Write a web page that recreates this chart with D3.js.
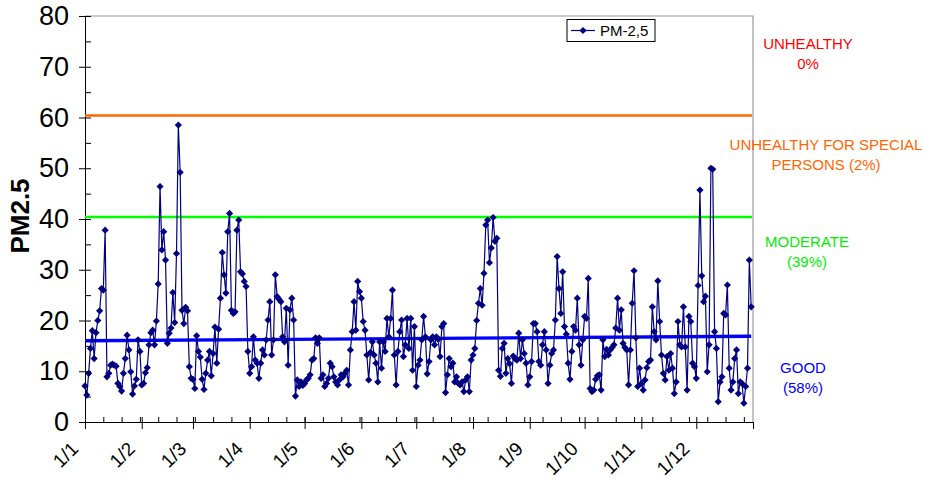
<!DOCTYPE html>
<html>
<head>
<meta charset="utf-8">
<script src="https://cdn.jsdelivr.net/npm/d3@7"></script>
<style>
    body { margin: 0; background: #fff; }
    text { font-family: "Liberation Sans", Arial, sans-serif; }
</style>
</head>
<body>
<div id="chart"></div>
<script>

    // daily PM2.5 readings, one array per month
    var jan = [7.1, 5.3, 9.6, 14.5, 18, 12.5, 17.6, 20, 21.9, 26.3, 26, 37.8, 8.9, 9.6, 11.2, 11.4, 11.2, 11, 7.6, 7, 6.1, 9.6, 12.5, 17.1, 14.2, 9.9, 5.5, 7.1, 8.4, 16.2, 13.9];
    var feb = [7.3, 7.6, 9.7, 10.7, 15.2, 17.6, 18.1, 15.2, 19.9, 27.2, 46.4, 33.9, 37.5, 31.9, 15.5, 17.5, 18.5, 25.5, 19.6, 33.2, 58.5, 49.2, 22, 19.4, 22.6, 21.9, 10.9, 8.6];
    var mar = [8.4, 6.6, 17, 13.9, 12.8, 8.4, 6.4, 9.6, 12.2, 13.9, 9.1, 13.5, 18.7, 11.6, 18.3, 24.4, 33.4, 29, 25.4, 37.5, 41.1, 22, 21.4, 21.7, 37.8, 39.8, 29.6, 29.2, 27.7, 26.7, 13.9];
    var apr = [9.6, 10.9, 16.8, 12.2, 11.6, 8.6, 11.6, 14.2, 13.2, 16.2, 20.1, 23.7, 13.2, 16.2, 29, 24.7, 24.2, 23.7, 16.8, 15.8, 22.4, 11.2, 22.1, 24.4, 20.1, 5.1, 8.3, 7, 7.9, 7.2];
    var may = [7.6, 8.3, 8.6, 9.3, 12.2, 12.5, 16.6, 15.5, 16.6, 8.6, 9.3, 7, 7.6, 8.6, 11.6, 10.9, 8.9, 7.9, 7.3, 8.3, 9.3, 8.9, 9.6, 10.2, 7.3, 14.2, 17.8, 23.7, 18.1, 27.7, 25.7];
    var jun = [24.4, 19.8, 18.1, 13.2, 8.3, 13.7, 15.8, 13.2, 11.6, 7.9, 15.8, 10.6, 15.8, 13.9, 20.4, 16.8, 20.4, 26, 13.2, 7.3, 13.9, 17.8, 20.1, 12.9, 15.2, 20.4, 14.5, 20.4, 10.2, 18.8];
    var jul = [7, 11.2, 12.2, 16.2, 20.8, 16.8, 9.5, 11.9, 16.2, 16.8, 15.2, 16.8, 16.3, 12.9, 18.8, 19.4, 5.8, 9.3, 12.5, 10.9, 11.6, 7.9, 8.9, 7.6, 7.3, 7.9, 6, 8.3, 8.9, 6, 12.2];
    var aug = [13.2, 14.5, 20, 23.4, 26.3, 23, 29.3, 38.8, 39.8, 31.4, 34.3, 40.3, 35.6, 36.2, 10.2, 9, 14.5, 15.5, 9.6, 12.5, 11.5, 7.6, 13, 12.5, 12.2, 17.5, 12.5, 16.2, 13.5, 11.6, 7.3];
    var sep = [8.9, 11.9, 19.4, 19.4, 17.8, 11.9, 11.2, 15.2, 17.8, 14.2, 7.6, 11.2, 13.5, 14.2, 20.1, 32.6, 26.3, 21.4, 29.6, 18.8, 17.3, 11.6, 8.4, 13.9, 18.8, 18.1, 24.4, 15.2, 11.2, 16.2];
    var oct = [20.8, 20.4, 28.3, 6.6, 6, 6.3, 8.4, 9.1, 9.3, 6.3, 16.2, 12.9, 14.3, 13.2, 14.2, 14.7, 15.2, 18.5, 24.4, 18.1, 22.1, 15.5, 14.7, 14.2, 7.3, 14.2, 23.4, 29.8, 16.6, 7, 10.6];
    var nov = [7.6, 6.3, 8.3, 10.7, 11.9, 12.2, 22.7, 17.8, 16.2, 27.8, 19.8, 13.2, 9.6, 8.3, 12.9, 10.2, 13.5, 10.6, 5.6, 7.9, 19.8, 15.2, 14.8, 22.7, 14.8, 6.3, 20.8, 19.8, 11.6, 10.9];
    var dec = [8.6, 26.9, 45.7, 28.8, 23.7, 24.8, 9.9, 15.2, 50, 49.8, 17.8, 14.5, 4, 7.9, 8.9, 21.4, 21.1, 27, 10.6, 6.3, 7.9, 12.5, 14.2, 5.6, 7.9, 7.6, 3.7, 7, 10.6, 31.9, 22.7];

    var monthLabels = ["1/1", "1/2", "1/3", "1/4", "1/5", "1/6", "1/7", "1/8", "1/9", "1/10", "1/11", "1/12"];
    var yTicks = [0, 10, 20, 30, 40, 50, 60, 70, 80];
    var limitValues = [40.4, 60.4];           // moderate / unhealthy for special persons
    var trendEnds = [16.0, 16.9];             // linear trend line, first and last day
    var bandNames = [["UNHEALTHY", "0%"], ["UNHEALTHY FOR SPECIAL", "PERSONS (2%)"], ["MODERATE", "(39%)"], ["GOOD", "(58%)"]];
    var bandValues = [73.4, 53.5, 34.4, 9.6];  // where each band label sits on the value scale
    var seriesName = "PM-2,5";

    var margin = { top: 16, right: 172, bottom: 56, left: 85 },
        width = 925 - margin.left - margin.right,
        height = 478 - margin.top - margin.bottom;

    var year = 2010;
    var values = [].concat(jan, feb, mar, apr, may, jun, jul, aug, sep, oct, nov, dec);
    var data = values.map(function (v, i) { return { date: new Date(year, 0, 1 + i), value: v }; });

    var svg = d3.select("#chart")
        .append("svg")
        .attr("width", 925)
        .attr("height", 478)
        .append("g")
        .attr("transform", "translate(" + margin.left + "," + margin.top + ")");

    var x = d3.scaleTime()
        .domain([new Date(year, 0, 1), new Date(year + 1, 0, 1)])
        .range([0, width]);
    var y = d3.scaleLinear()
        .domain([0, 80])
        .range([height, 0]);

    var monthStarts = d3.range(12).map(function (m) { return new Date(year, m, 1); });
    var tenDays = d3.range(0, 366, 10).map(function (d) { return new Date(year, 0, 1 + d); });

    // grey frame on top and right
    svg.append("path")
        .attr("d", "M0,0H" + width + "V" + height)
        .attr("fill", "none")
        .attr("stroke", "#9a9a9a")
        .attr("stroke-width", 1.2);

    // Y axis: labelled ticks outward, minor ticks inward
    var yAxis = svg.append("g")
        .call(d3.axisLeft(y).tickValues(yTicks).tickSize(6).tickSizeOuter(0).tickPadding(10));
    yAxis.selectAll("text").style("font-size", "27px").attr("fill", "#000");
    svg.append("g")
        .call(d3.axisLeft(y).tickValues(d3.range(0, 81, 5)).tickSize(-6).tickSizeOuter(0).tickFormat(""))
        .select(".domain").remove();

    // X axis
    var xAxis = svg.append("g")
        .attr("transform", "translate(0," + height + ")")
        .call(d3.axisBottom(x).tickValues(monthStarts.concat([new Date(year + 1, 0, 1)])).tickSize(7).tickSizeOuter(0)
            .tickFormat(function (d, i) { return monthLabels[i] || ""; }));
    xAxis.selectAll("text")
        .style("font-size", "19px")
        .attr("fill", "#000")
        .style("text-anchor", "end")
        .attr("y", 0)
        .attr("dy", 0)
        .attr("transform", "translate(-6,28)rotate(-45)");
    svg.append("g")
        .attr("transform", "translate(0," + height + ")")
        .call(d3.axisBottom(x).tickValues(tenDays.concat(monthStarts)).tickSize(-5).tickSizeOuter(0).tickFormat(""))
        .select(".domain").remove();
    svg.selectAll(".domain, .tick line").attr("stroke", "#000");

    // air quality limits
    var limitColors = ["#00ff00", "#ff6600"];
    svg.selectAll(".limit")
        .data(limitValues)
        .enter()
        .append("line")
        .attr("x1", 0)
        .attr("x2", width - 1)
        .attr("y1", function (d) { return y(d); })
        .attr("y2", function (d) { return y(d); })
        .attr("stroke", function (d, i) { return limitColors[i]; })
        .attr("stroke-width", 2.6);

    // linear trend line
    var n = data.length;
    svg.append("line")
        .attr("x1", x(data[0].date))
        .attr("x2", x(data[n - 1].date))
        .attr("y1", y(trendEnds[0]))
        .attr("y2", y(trendEnds[1]))
        .attr("stroke", "#0000ff")
        .attr("stroke-width", 3.4);

    // series
    var line = d3.line()
        .x(function (d) { return x(d.date); })
        .y(function (d) { return y(d.value); });
    svg.append("path")
        .datum(data)
        .attr("d", line)
        .attr("fill", "none")
        .attr("stroke", "#000080")
        .attr("stroke-width", 1.2);

    var diamond = "M0,-3.6L3.6,0L0,3.6L-3.6,0Z";
    svg.selectAll(".pt")
        .data(data)
        .enter()
        .append("path")
        .attr("d", diamond)
        .attr("transform", function (d) { return "translate(" + x(d.date) + "," + y(d.value) + ")"; })
        .attr("fill", "#000080");

    // y title
    svg.append("text")
        .attr("transform", "translate(" + (-56) + "," + (height / 2 - 3) + ")rotate(-90)")
        .attr("text-anchor", "middle")
        .style("font-size", "26px")
        .style("font-weight", "bold")
        .text("PM2.5");

    // legend
    var lg = svg.append("g").attr("transform", "translate(482,3.5)");
    lg.append("rect").attr("width", 88).attr("height", 22).attr("fill", "#fff").attr("stroke", "#000");
    lg.append("line").attr("x1", 4).attr("x2", 28).attr("y1", 11).attr("y2", 11).attr("stroke", "#000080").attr("stroke-width", 1.2);
    lg.append("path").attr("d", diamond).attr("transform", "translate(16,11)").attr("fill", "#000080");
    lg.append("text").attr("x", 33).attr("y", 16.5).style("font-size", "15px").text(seriesName);

    // band labels on the right
    var bandColors = ["#ff0000", "#ff6600", "#00ee00", "#0000ff"];
    var bandX = [808, 826, 807, 803];
    bandNames.forEach(function (b, i) {
        var t = svg.append("text")
            .attr("x", bandX[i] - margin.left)
            .attr("y", y(bandValues[i]))
            .attr("text-anchor", "middle")
            .attr("fill", bandColors[i])
            .style("font-size", "15px");
        t.append("tspan").attr("x", bandX[i] - margin.left).text(b[0]);
        t.append("tspan").attr("x", bandX[i] - margin.left).attr("dy", 20).text(b[1]);
    });

</script>
</body>
</html>
